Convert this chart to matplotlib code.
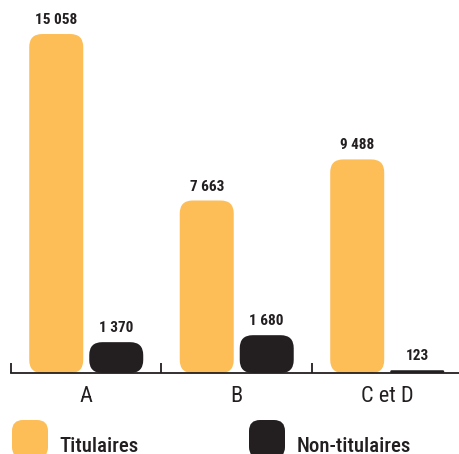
import matplotlib.pyplot as plt
from matplotlib.patches import FancyBboxPatch
import numpy as np

categories = ['A', 'B', 'C et D']
titulaires = [15058, 7663, 9488]
non_titulaires = [1370, 1680, 123]
series_names = ['Titulaires', 'Non-titulaires']

ORANGE = '#FDBD57'
NOIR = '#231F20'
FONT = ['Roboto Condensed', 'Archivo Narrow', 'DejaVu Sans']

W, H = 459, 454
fig = plt.figure(figsize=(W / 100, H / 100), dpi=100)
ax = fig.add_axes([11 / W, 81 / H, 448 / W, 373 / H])
ax.set_xlim(-0.5, 2.477)
ax.set_ylim(0, 16570)

# size of one pixel in data units, used to keep corners round
px_x = (2.477 + 0.5) / 448
px_y = 16570 / 373
aspect = px_y / px_x


def fmt(v):
    return f'{v:,}'.replace(',', ' ')


def rounded_bar(xc, h, width, color, r_px=13):
    r = min(r_px, h / px_y / 2, width / px_x / 2)
    bar = FancyBboxPatch((xc - width / 2, 0), width, h,
                         boxstyle=f'round,pad=0,rounding_size={r * px_x}',
                         mutation_aspect=aspect, fc=color, ec='none',
                         clip_on=False)
    ax.add_patch(bar)
    ax.annotate(fmt(h), (xc, h), xytext=(0, 5), textcoords='offset points',
                ha='center', va='bottom', fontsize=11, fontweight='bold',
                color=NOIR, family=FONT)


x = np.arange(len(categories))
bw = 54 * px_x
off = 30 * px_x
for i in x:
    rounded_bar(i - off, titulaires[i], bw, ORANGE)
    rounded_bar(i + off, non_titulaires[i], bw, NOIR)

for s in ['top', 'left', 'right']:
    ax.spines[s].set_visible(False)
ax.spines['bottom'].set_color(NOIR)
ax.spines['bottom'].set_linewidth(1.3)
ax.set_yticks([])
ax.set_xticks([-0.5, 0.5, 1.5])
ax.set_xticklabels([])
ax.tick_params(axis='x', which='major', direction='in', length=7.5,
               width=1.3, color=NOIR)
ax.set_xticks(x, minor=True)
ax.set_xticklabels(categories, minor=True, fontsize=16, color=NOIR,
                   family=FONT)
ax.tick_params(axis='x', which='minor', length=0, pad=9.5)

# legend
for (lx, tx), name, col in zip([(12, 59), (249, 297)], series_names,
                               [ORANGE, NOIR]):
    sw = FancyBboxPatch((lx / W, -4 / H), 36 / W, 38 / H,
                        boxstyle=f'round,pad=0,rounding_size={11 / W}',
                        mutation_aspect=W / H, fc=col, ec='none',
                        transform=fig.transFigure, clip_on=False)
    fig.add_artist(sw)
    fig.text(tx / W, 2.5 / H, name, ha='left', va='baseline', fontsize=15,
             fontweight='medium', color=NOIR, family=FONT)

fig.savefig('out.png', dpi=100)
